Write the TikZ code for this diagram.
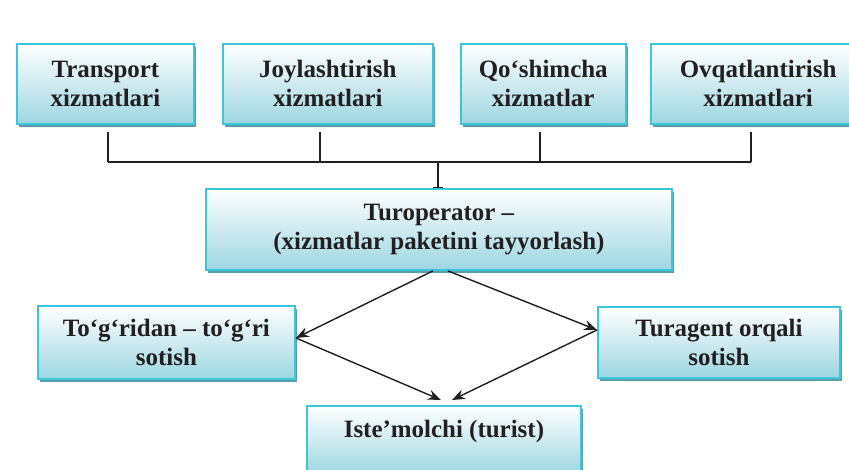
\documentclass[tikz,border=0pt]{standalone}
\usepackage{fontspec}
\setmainfont{Liberation Serif}
\usetikzlibrary{positioning}
\usetikzlibrary{shadows}
\usetikzlibrary{arrows.meta}

\definecolor{boxline}{HTML}{3CC6DB}
\definecolor{boxfill}{HTML}{9DD6E1}
\definecolor{boxshade}{HTML}{5A9EA9}
\definecolor{ink}{HTML}{231F20}

\tikzset{
  service/.style={draw=boxline, line width=1.1pt, top color=white, bottom color=boxfill,
    drop shadow={shadow xshift=0.04cm, shadow yshift=-0.06cm, fill=boxshade, opacity=1},
    anchor=north west, inner sep=0pt, align=center, text=ink,
    font=\fontsize{14.2}{16.5}\selectfont\bfseries},
  link/.style={draw=ink, line width=0.8pt}
}

\begin{document}
\begin{tikzpicture}[x=0.02cm,y=-0.02cm,>={Stealth[length=0.26cm,width=0.2cm]}]
          \useasboundingbox (0,0) rectangle (849,470);

          \node (trans) [service, minimum width=3.54cm, minimum height=1.6cm] at (16,43) {Transport\\xizmatlari};
          \node (joy)   [service, minimum width=4.2cm, minimum height=1.6cm, right=0.54cm of trans] {Joylashtirish\\xizmatlari};
          \node (qosh)  [service, minimum width=3.3cm, minimum height=1.6cm, right=0.52cm of joy] {Qo‘shimcha\\xizmatlar};
          \node (ovqat) [service, minimum width=4.3cm, minimum height=1.6cm, right=0.46cm of qosh] {Ovqatlantirish\\xizmatlari};

          \node (tour)   [service, minimum width=9.32cm, minimum height=1.62cm] at (205,188) {Turoperator –\\(xizmatlar paketini tayyorlash)};
          \node (direct) [service, minimum width=5.14cm, minimum height=1.46cm] at (37,305) {To‘g‘ridan – to‘g‘ri\\sotish};
          \node (agent)  [service, minimum width=4.84cm, minimum height=1.42cm] at (597,306) {Turagent orqali\\sotish};
          \node (cons)   [service, minimum width=5.48cm, minimum height=1.36cm, text height=10pt, text depth=12.8pt] at (306,405) {Iste’molchi (turist)};

          \coordinate (bus1) at (108,162);
          \coordinate (bus2) at (320,162);
          \coordinate (bus3) at (540,162);
          \coordinate (bus4) at (751,162);
          \coordinate (busmid) at (438,162);
          \coordinate (in1) at (441,400);
          \coordinate (in2) at (452,400);

          \draw[link, shorten <=0.14cm] (trans.south -| bus1) -- (bus1);
          \draw[link, shorten <=0.14cm] (joy.south -| bus2) -- (bus2);
          \draw[link, shorten <=0.14cm] (qosh.south -| bus3) -- (bus3);
          \draw[link, shorten <=0.14cm] (ovqat.south -| bus4) -- (bus4);
          \draw[link] (bus1) -- (bus4);
          \draw[link, -{Bar[width=0.2cm]}] (busmid) -- (busmid |- tour.north);

          \draw[link, ->] ([xshift=-0.12cm]tour.south) -- ([yshift=0.09cm]direct.east);
          \draw[link, ->] ([xshift=0.18cm]tour.south) -- ([yshift=0.25cm]agent.west);
          \draw[link, ->] ([yshift=0.09cm]direct.east) -- (in1);
          \draw[link, ->] ([yshift=0.25cm]agent.west) -- (in2);
        \end{tikzpicture}
\end{document}
